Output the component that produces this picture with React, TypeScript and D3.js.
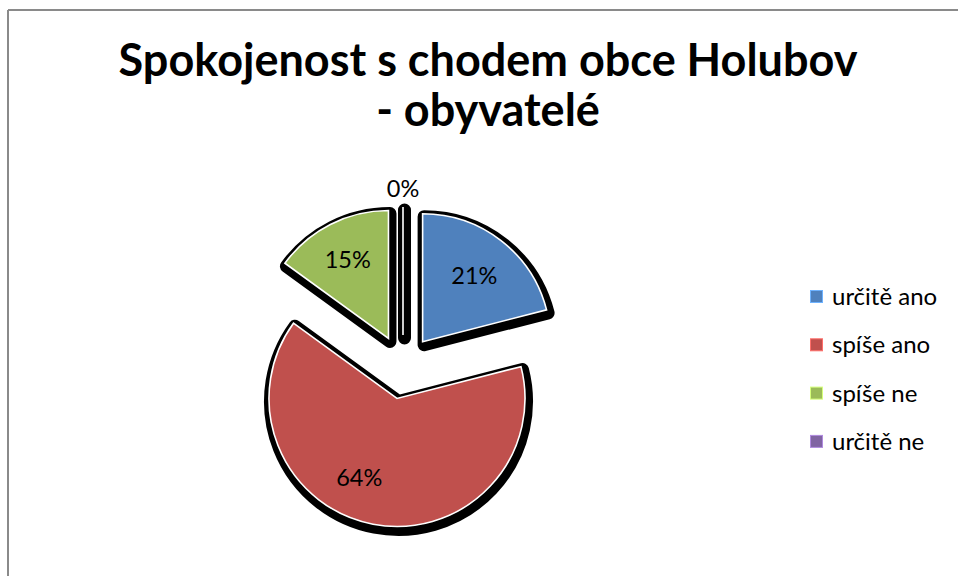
import React from "react";
import * as d3 from "d3";

const categories = ["určitě ano", "spíše ano", "spíše ne", "určitě ne"];
const values = [21, 64, 15, 0];
const labels = ["21%", "64%", "15%", "0%"];
const colors = ["#4F81BD", "#C0504D", "#9BBB59", "#8064A2"];
const titleLines = ["Spokojenost s chodem obce Holubov", "- obyvatelé"];

const W = 958;
const H = 576;
const cx = 403;
const cy = 367;
const R = 128;
const explode = 32;
// label radius (fraction of R) and angular tweak per slice (radians)
const labelRad = [0.66, 0.68, 0.7, 1.15];
const labelTweak = [0, 0.26, 0, 0];

export default function App() {
  const pie = d3
    .pie<number>()
    .sort(null)
    .value((d) => d)
    .startAngle(0)
    .endAngle(2 * Math.PI);
  const arcs = pie(values);
  const arc = d3.arc<d3.PieArcDatum<number>>().innerRadius(0).outerRadius(R);

  const offsets = arcs.map((a) => {
    const m = (a.startAngle + a.endAngle) / 2;
    return [Math.sin(m) * explode, -Math.cos(m) * explode];
  });

  const font = "Lato, 'Open Sans', sans-serif";

  return (
    <svg
      width={W}
      height={H}
      style={{ position: "absolute", left: 0, top: 0, background: "#fff" }}
    >
      <rect x={0} y={0} width={W} height={H} fill="#fff" />
      {/* frame */}
      <line x1={8} y1={10} x2={W} y2={10} stroke="#8a8a8a" strokeWidth={2} />
      <line x1={8} y1={10} x2={8} y2={H} stroke="#8a8a8a" strokeWidth={2} />

      {/* title */}
      {titleLines.map((t, i) => (
        <text
          key={i}
          x={488}
          y={76 + i * 50}
          textAnchor="middle"
          fontFamily={font}
          fontWeight="bold"
          fontSize={45}
          fill="#000"
        >
          {t}
        </text>
      ))}

      {/* shadows */}
      <g>
        {arcs.map((a, i) => (
          <path
            key={"s" + i}
            d={arc(a) || ""}
            transform={`translate(${cx + offsets[i][0] + 1.5},${cy + offsets[i][1] + 3})`}
            fill="#000"
            stroke="#000"
            strokeWidth={13}
            strokeLinejoin="round"
          />
        ))}
      </g>
      {/* slices */}
      <g>
        {arcs.map((a, i) => (
          <path
            key={"p" + i}
            d={arc(a) || ""}
            transform={`translate(${cx + offsets[i][0]},${cy + offsets[i][1]})`}
            fill={colors[i]}
            stroke="#fff"
            strokeWidth={1.6}
            strokeLinejoin="miter"
          />
        ))}
      </g>
      {/* labels */}
      {arcs.map((a, i) => {
        const m = (a.startAngle + a.endAngle) / 2 + labelTweak[i];
        const r = R * labelRad[i];
        const x = cx + offsets[i][0] + Math.sin(m) * r;
        const y = cy + offsets[i][1] - Math.cos(m) * r;
        return (
          <text
            key={"l" + i}
            x={x}
            y={y}
            textAnchor="middle"
            dominantBaseline="central"
            fontFamily={font}
            fontSize={23.5}
            fill="#000"
          >
            {labels[i]}
          </text>
        );
      })}

      {/* legend */}
      {categories.map((c, i) => {
        const y = 297 + i * 48.3;
        return (
          <g key={"g" + i}>
            <rect x={810.5} y={y - 6.5} width={12} height={12} fill={colors[i]} />
            <rect
              x={810.5}
              y={y - 6.5}
              width={12}
              height={12}
              fill="none"
              stroke={d3.color(colors[i])!.brighter(0.9).toString()}
              strokeWidth={1}
            />
            <text
              x={832}
              y={y + 8}
              fontFamily={font}
              fontSize={24}
              fill="#000"
            >
              {c}
            </text>
          </g>
        );
      })}
    </svg>
  );
}
